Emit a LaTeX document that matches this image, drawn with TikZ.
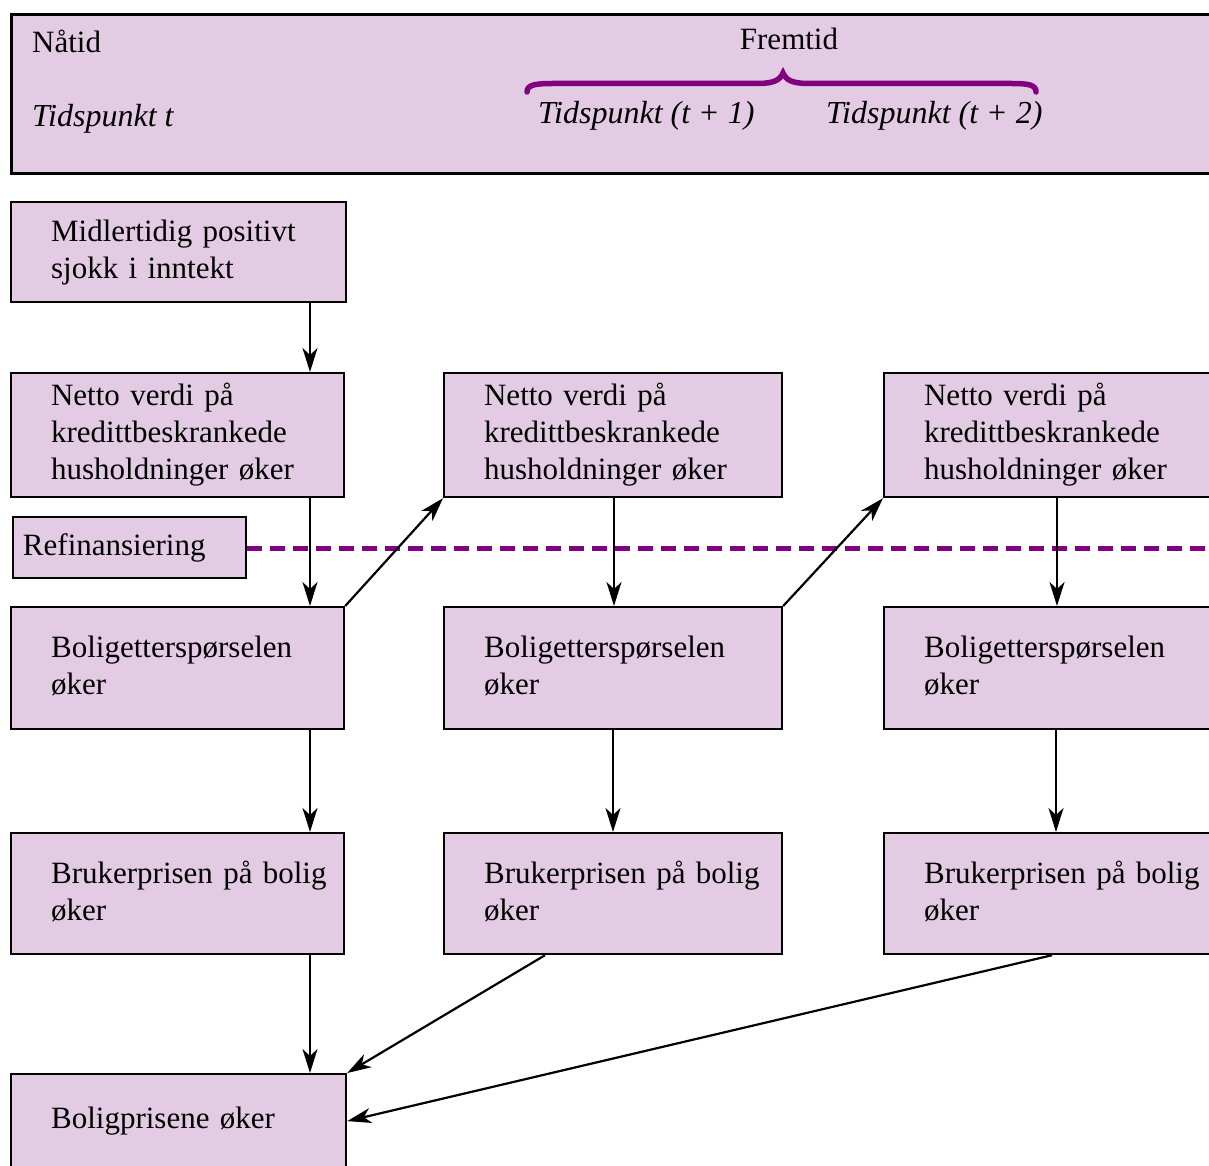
\documentclass[tikz,border=0pt]{standalone}
\usepackage{fontspec}
\setmainfont{Liberation Serif}
\usetikzlibrary{arrows.meta}
\definecolor{boxfill}{HTML}{E3CCE3}
\definecolor{brpurple}{HTML}{800080}
\begin{document}
\begin{tikzpicture}[x=1pt,y=-1pt,
  font=\fontsize{31}{37}\selectfont,
  box/.style={draw=black, line width=2.2pt, fill=boxfill, rectangle, anchor=north west,
    inner xsep=40pt, inner ysep=2pt, align=left},
  arr/.style={line width=2.2pt, -{Stealth[length=24pt,width=15pt,inset=7pt]}},
  lbl/.style={anchor=base west, inner sep=0pt}]
\useasboundingbox (0,0) rectangle (1209,1166);
\clip (0,0) rectangle (1209,1166);
% top box
\node[draw=black, line width=2.8pt, fill=boxfill, rectangle, anchor=north west,
  minimum width=1300pt, minimum height=159pt, inner sep=0pt] (top) at (10,13) {};
\node[lbl] (natid) at (32,53) {Nåtid};
\node[lbl] (tt) at (32,127) {\fontsize{32}{37}\selectfont\itshape Tidspunkt t};
\node[anchor=base, inner sep=0pt] (frem) at (789,50) {Fremtid};
\node[lbl] (t1) at (538,124) {\fontsize{32}{37}\selectfont\itshape Tidspunkt (t + 1)};
\node[lbl] (t2) at (826,124) {\fontsize{32}{37}\selectfont\itshape Tidspunkt (t + 2)};
\draw[brpurple, line width=5.5pt, line cap=round]
  (527,92) .. controls (527,85) and (535,83.5) .. (552,83.5) -- (757,83.5)
  .. controls (774,83.5) and (780,80) .. (783,73)
  .. controls (786,80) and (792,83.5) .. (809,83.5) -- (1012,83.5)
  .. controls (1029,83.5) and (1036,85) .. (1036,92);
% column 1
\node[box, text width=255pt, minimum height=100pt] (m) at (10,201)
  {\mbox{Midlertidig positivt}\\\mbox{sjokk i inntekt}};
\node[box, text width=253pt, minimum height=124pt] (n1) at (10,372)
  {\mbox{Netto verdi på}\\\mbox{kredittbeskrankede}\\\mbox{husholdninger øker}};
\node[box, text width=253pt, minimum height=122pt] (b1) at (10,606)
  {\mbox{Boligetterspørselen}\\\mbox{øker}\vspace{5pt}};
\node[box, text width=253pt, minimum height=121pt] (r1) at (10,832)
  {\mbox{Brukerprisen på bolig}\\\mbox{øker}\vspace{5pt}};
\node[box, text width=255pt, minimum height=94pt] (p) at (10,1073)
  {\mbox{Boligprisene øker}};
% column 2
\node[box, text width=258pt, minimum height=124pt] (n2) at (443,372)
  {\mbox{Netto verdi på}\\\mbox{kredittbeskrankede}\\\mbox{husholdninger øker}};
\node[box, text width=258pt, minimum height=122pt] (b2) at (443,606)
  {\mbox{Boligetterspørselen}\\\mbox{øker}\vspace{5pt}};
\node[box, text width=258pt, minimum height=121pt] (r2) at (443,832)
  {\mbox{Brukerprisen på bolig}\\\mbox{øker}\vspace{5pt}};
% column 3
\node[box, text width=320pt, minimum height=124pt] (n3) at (883,372)
  {\mbox{Netto verdi på}\\\mbox{kredittbeskrankede}\\\mbox{husholdninger øker}};
\node[box, text width=320pt, minimum height=122pt] (b3) at (883,606)
  {\mbox{Boligetterspørselen}\\\mbox{øker}\vspace{5pt}};
\node[box, text width=320pt, minimum height=121pt] (r3) at (883,832)
  {\mbox{Brukerprisen på bolig}\\\mbox{øker}\vspace{5pt}};
% refinansiering
\node[box, inner xsep=10pt, text width=213pt, minimum height=61pt, line width=2pt] (ref) at (12,516)
  {\mbox{Refinansiering}};
\coordinate (dashend) at (1215,548);
\draw[brpurple, line width=5pt, dash pattern=on 15pt off 8pt] (ref.east |- dashend) -- (dashend);
% arrows
\draw[arr] ([xshift=300pt]m.south west) -- ([xshift=300pt]n1.north west);
\draw[arr] ([xshift=300pt]n1.south west) -- ([xshift=300pt]b1.north west);
\draw[arr] (b1.north east) -- (n2.south west);
\draw[arr] ([xshift=171pt]n2.south west) -- ([xshift=171pt]b2.north west);
\draw[arr] (b2.north east) -- (n3.south west);
\draw[arr] ([xshift=174pt]n3.south west) -- ([xshift=174pt]b3.north west);
\draw[arr] ([xshift=300pt]b1.south west) -- ([xshift=300pt]r1.north west);
\draw[arr] ([xshift=170pt]b2.south west) -- ([xshift=170pt]r2.north west);
\draw[arr] ([xshift=173pt]b3.south west) -- ([xshift=173pt]r3.north west);
\draw[arr] ([xshift=300pt]r1.south west) -- ([xshift=300pt]p.north west);
\draw[arr] ([xshift=102pt]r2.south west) -- (p.north east);
\draw[arr] ([xshift=169pt]r3.south west) -- (p.east);
\end{tikzpicture}
\end{document}
